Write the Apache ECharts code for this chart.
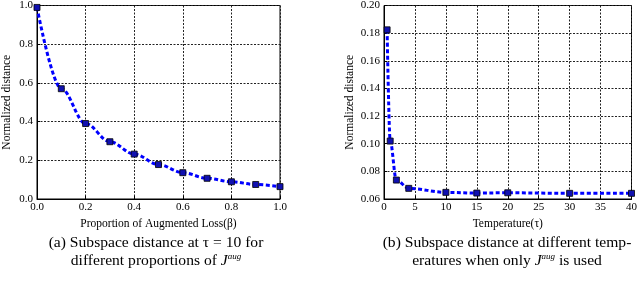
<!DOCTYPE html>
<html><head><meta charset="utf-8">
<script src="https://cdn.jsdelivr.net/npm/echarts@6/dist/echarts.min.js"></script>
<style>html,body{margin:0;padding:0;background:#fff}#c{width:640px;height:288px}</style>
</head><body><div id="c"></div>
<script>
const betaValues = [0.0, 0.1, 0.2, 0.3, 0.4, 0.5, 0.6, 0.7, 0.8, 0.9, 1.0];
const distanceByBeta = [0.99, 0.57, 0.39, 0.296, 0.232, 0.178, 0.136, 0.107, 0.089, 0.075, 0.064];
const temperatures = [0.5, 1, 2, 4, 10, 15, 20, 30, 40];
const distanceByTemp = [0.1824, 0.1019, 0.0737, 0.0677, 0.0648, 0.0643, 0.0645, 0.0641, 0.0641];
const captionA = ['(a) Subspace distance at τ = 10 for', 'different proportions of '];
const captionB = ['(b) Subspace distance at different temp-', 'eratures when only '];

const serif = '"Liberation Serif","DejaVu Serif",serif';
const gridLine = {show: true, lineStyle: {color: '#222', type: [2, 1.5], width: 1}};
const axLine = {show: true, onZero: false, lineStyle: {color: '#000', width: 1}};
const tickLbl = {fontFamily: serif, fontSize: 11, color: '#000'};
const nameStyle = {fontFamily: serif, fontSize: 11.5, color: '#000'};

function pairs(xs, ys) { return xs.map((x, i) => [x, ys[i]]); }

const lineSeries = (xi, yi, xs, ys) => ({
  type: 'line', xAxisIndex: xi, yAxisIndex: yi, data: pairs(xs, ys),
  symbol: 'rect', symbolSize: 6,
  smooth: 0.35, smoothMonotone: 'x',
  itemStyle: {color: '#1010b0', borderColor: '#000', borderWidth: 0.8},
  lineStyle: {color: '#0000ff', width: 3, type: [4, 2.5]},
  clip: false, z: 5
});

const capRich = {
  j: {fontFamily: serif, fontSize: 15.6, fontStyle: 'italic', color: '#000'},
  s: {fontFamily: serif, fontSize: 9, fontStyle: 'italic', color: '#000', verticalAlign: 'top', padding: [0, 0, 8, 0]},
  t: {fontFamily: serif, fontSize: 15.6, color: '#000'}
};

const chart = echarts.init(document.getElementById('c'), null, {renderer: 'canvas'});
chart.setOption({
  animation: false,
  backgroundColor: '#fff',
  grid: [
    {left: 31, top: 5, width: 249, height: 194, show: true, borderColor: '#000', borderWidth: 1},
    {left: 384, top: 5, width: 251, height: 194, show: true, borderColor: '#000', borderWidth: 1}
  ],
  xAxis: [
    {type: 'value', gridIndex: 0, min: 0, max: 1, interval: 0.2,
     axisLine: axLine, axisTick: {show: true, inside: true, length: 3},
     splitLine: gridLine,
     axisLabel: Object.assign({formatter: v => v.toFixed(1), margin: 3}, tickLbl),
     name: 'Proportion of Augmented Loss(β)', nameLocation: 'middle', nameGap: 18,
     nameTextStyle: nameStyle},
    {type: 'value', gridIndex: 1, min: 0, max: 40, interval: 5,
     axisLine: axLine, axisTick: {show: true, inside: true, length: 3},
     splitLine: gridLine,
     axisLabel: Object.assign({margin: 3}, tickLbl),
     name: 'Temperature(τ)', nameLocation: 'middle', nameGap: 18,
     nameTextStyle: nameStyle}
  ],
  yAxis: [
    {type: 'value', gridIndex: 0, min: 0, max: 1, interval: 0.2,
     axisLine: axLine, axisTick: {show: true, inside: true, length: 3},
     splitLine: gridLine,
     axisLabel: Object.assign({formatter: v => v.toFixed(1), margin: 4}, tickLbl),
     name: 'Normalized distance', nameLocation: 'middle', nameGap: 24,
     nameTextStyle: nameStyle},
    {type: 'value', gridIndex: 1, min: 0.06, max: 0.2, interval: 0.02,
     axisLine: axLine, axisTick: {show: true, inside: true, length: 3},
     splitLine: gridLine,
     axisLabel: Object.assign({formatter: v => v.toFixed(2), margin: 4}, tickLbl),
     name: 'Normalized distance', nameLocation: 'middle', nameGap: 28,
     nameTextStyle: nameStyle}
  ],
  title: [
    {text: captionA[0] + '\n' + captionA[1] + '{j|J}{s|aug}', left: 151, top: 229, textAlign: 'center',
     textStyle: {fontFamily: serif, fontSize: 15.6, fontWeight: 'normal', color: '#000', lineHeight: 18, align: 'center', rich: capRich}},
    {text: captionB[0] + '\n' + captionB[1] + '{j|J}{s|aug}{t| is used}', left: 502, top: 229, textAlign: 'center',
     textStyle: {fontFamily: serif, fontSize: 15.6, fontWeight: 'normal', color: '#000', lineHeight: 18, align: 'center', rich: capRich}}
  ],
  series: [
    lineSeries(0, 0, betaValues, distanceByBeta),
    lineSeries(1, 1, temperatures, distanceByTemp)
  ]
});
</script></body></html>
